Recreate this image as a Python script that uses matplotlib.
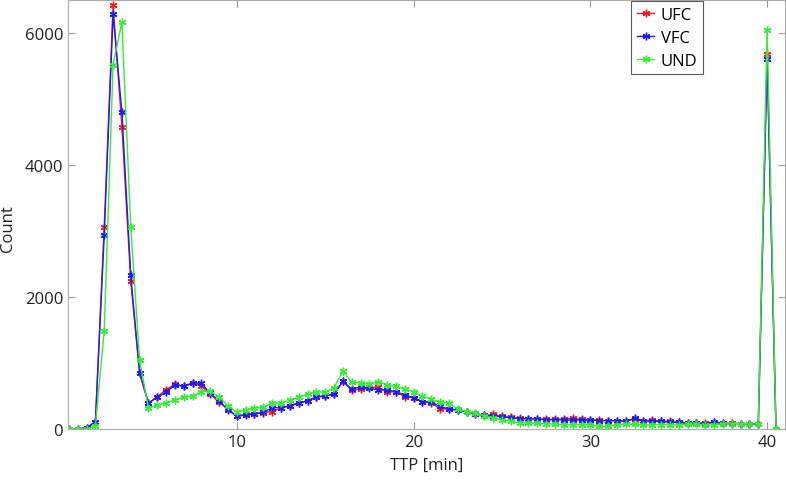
import matplotlib
matplotlib.use("Agg")
import matplotlib.pyplot as plt

ttp = [0.5, 1.0, 1.5, 2.0, 2.5, 3.0, 3.5, 4.0, 4.5, 5.0,
       5.5, 6.0, 6.5, 7.0, 7.5, 8.0, 8.5, 9.0, 9.5, 10.0,
       10.5, 11.0, 11.5, 12.0, 12.5, 13.0, 13.5, 14.0, 14.5, 15.0,
       15.5, 16.0, 16.5, 17.0, 17.5, 18.0, 18.5, 19.0, 19.5, 20.0,
       20.5, 21.0, 21.5, 22.0, 22.5, 23.0, 23.5, 24.0, 24.5, 25.0,
       25.5, 26.0, 26.5, 27.0, 27.5, 28.0, 28.5, 29.0, 29.5, 30.0,
       30.5, 31.0, 31.5, 32.0, 32.5, 33.0, 33.5, 34.0, 34.5, 35.0,
       35.5, 36.0, 36.5, 37.0, 37.5, 38.0, 38.5, 39.0, 39.5, 40.0,
       40.5]

ufc = [0, 0, 20, 100, 3065, 6424, 4575, 2237, 850, 390,
       490, 596, 680, 646, 700, 646, 530, 404, 300, 200,
       220, 230, 250, 263, 320, 350, 390, 430, 480, 500,
       530, 720, 590, 606, 630, 631, 566, 560, 490, 470,
       414, 400, 303, 300, 290, 262, 230, 205, 222, 190,
       175, 160, 157, 150, 145, 145, 152, 162, 145, 140,
       130, 126, 126, 120, 150, 116, 136, 116, 116, 100,
       91, 91, 91, 100, 86, 91, 81, 81, 76, 5680,
       0]

vfc = [0, 0, 20, 110, 2944, 6283, 4800, 2333, 850, 394,
       480, 556, 672, 646, 697, 692, 540, 430, 288, 192,
       212, 227, 252, 323, 323, 353, 394, 430, 485, 505,
       530, 722, 606, 636, 621, 591, 591, 566, 515, 475,
       414, 404, 344, 300, 290, 262, 230, 205, 192, 187,
       172, 157, 157, 152, 141, 141, 136, 136, 136, 136,
       126, 126, 126, 116, 162, 126, 116, 116, 101, 101,
       86, 91, 76, 106, 86, 81, 81, 81, 76, 5606,
       0]

und = [0, 0, 0, 50, 1490, 5520, 6161, 3065, 1050, 313,
       368, 394, 444, 480, 500, 566, 576, 485, 348, 258,
       288, 318, 328, 394, 394, 434, 480, 530, 566, 556,
       626, 879, 707, 697, 677, 717, 672, 646, 606, 566,
       495, 455, 404, 390, 300, 265, 240, 200, 162, 141,
       121, 91, 91, 86, 76, 76, 66, 66, 66, 61,
       40, 40, 66, 76, 71, 61, 61, 66, 61, 61,
       70, 71, 61, 61, 76, 81, 81, 81, 76, 6050,
       0]

series_names = ["UFC", "VFC", "UND"]
series_colors = ["#ff1a1a", "#1a1aff", "#33ee33"]

xticks = [10, 20, 30, 40]
yticks = [0, 2000, 4000, 6000]

plt.rcParams['font.family'] = ['Open Sans', 'DejaVu Sans']

fig = plt.figure(figsize=(7.86, 4.81), dpi=100)
ax = fig.add_axes([0.0865, 0.106, 0.912, 0.892])

asterisk = (6, 2, 0)
for vals, name, col in zip([ufc, vfc, und], series_names, series_colors):
    ax.plot(ttp, vals, color=col, lw=1.0, marker=asterisk, markersize=5.5,
            markeredgewidth=1.0, label=name)

ax.set_xlim(0.45, 41.0)
ax.set_ylim(0, 6500)
ax.set_xticks(xticks)
ax.set_yticks(yticks)
ax.tick_params(direction='in', length=5, top=True, right=True,
               labelsize=12, color='#999999', labelcolor='#222222', width=0.8)
for sp in ax.spines.values():
    sp.set_color('#aaaaaa')
    sp.set_linewidth(0.8)

ax.set_xlabel("TTP [min]", fontsize=12, color='#222222', labelpad=5)
ax.set_ylabel("Count", fontsize=12, color='#222222')
ax.yaxis.set_label_coords(-0.073, 0.47)

leg = ax.legend(loc='upper right', bbox_to_anchor=(0.886, 0.998),
                borderaxespad=0, fontsize=12,
                frameon=True, fancybox=False, edgecolor='#333333',
                handlelength=1.0, borderpad=0.35, labelspacing=0.42,
                handletextpad=0.4)
leg.get_frame().set_linewidth(0.8)

fig.savefig("out.png", dpi=100)
